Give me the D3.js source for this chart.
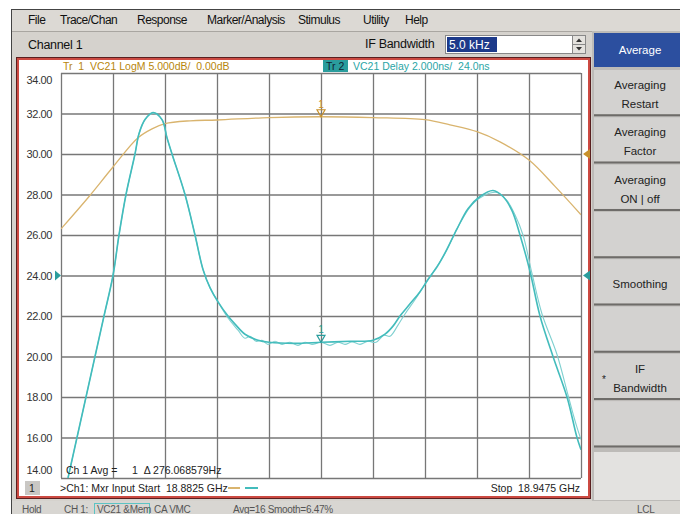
<!DOCTYPE html>
<html>
<head>
<meta charset="utf-8">
<script src="https://cdn.jsdelivr.net/npm/d3@7"></script>
<style>
  body { margin: 0; background: #fff; }
  svg text { font-family: "Liberation Sans", Arial, sans-serif; }
</style>
</head>
<body>
<div id="chart"></div>
<script>
// stimulus / scale settings
var startGHz = 18.8825;
var stopGHz = 18.9475;
var delayTicks = [34, 32, 30, 28, 26, 24, 22, 20, 18, 16, 14];
var markerGHz = 18.915;

// Tr 1 : VC21 LogM (dB)
var magFreq = [18.8825, 18.885875, 18.889, 18.892125, 18.893875, 18.8955, 18.898625, 18.902, 18.9085, 18.915,
  18.9215, 18.928, 18.931125, 18.9345, 18.937375, 18.941, 18.94425, 18.9475];
var magDb = [-9.25, -5.4, -1.6, 2.0, 3.1, 3.75, 4.1, 4.2, 4.5, 4.6,
  4.5, 4.25, 3.6, 2.75, 1.5, -0.75, -4.0, -7.5];

// Tr 2 : VC21 Delay (ns), data trace
var delayFreq = [18.883375, 18.8845, 18.885625, 18.88675, 18.887875, 18.889, 18.88975, 18.890625,
  18.89175, 18.89225, 18.893, 18.894, 18.895125, 18.89575, 18.896375, 18.898, 18.89925, 18.90025,
  18.901125, 18.902125, 18.903375, 18.90425, 18.9055, 18.907125, 18.9085, 18.91175, 18.915,
  18.918625, 18.9215, 18.923, 18.924, 18.924875, 18.926125, 18.927375, 18.928375, 18.929625,
  18.93075, 18.932, 18.933375, 18.934875, 18.9365, 18.93775, 18.938875, 18.939875, 18.941125,
  18.942375, 18.944, 18.94575, 18.947, 18.9475];
var delayNs = [14.0, 16.0, 18.0, 20.0, 22.0, 24.0, 26.0, 28.0,
  30.0, 31.0, 31.7, 32.05, 31.7, 30.8, 30.0, 28.0, 26.0, 24.3,
  23.4, 22.7, 22.0, 21.6, 21.1, 20.8, 20.7, 20.65, 20.7,
  20.75, 20.8, 21.1, 21.5, 22.0, 22.6, 23.2, 23.8, 24.5,
  25.3, 26.3, 27.3, 27.9, 28.2, 27.9, 27.2, 26.0, 24.2,
  22.0, 20.0, 18.0, 16.0, 15.4];

// Tr 2 memory trace (ns)
var memFreq = [18.883375, 18.8845, 18.885625, 18.88675, 18.887875, 18.889, 18.88975, 18.890625,
  18.89175, 18.89225, 18.893, 18.894, 18.895125, 18.89575, 18.896375, 18.898, 18.89925, 18.90025,
  18.901125, 18.902125, 18.903375, 18.904625, 18.9055, 18.906125, 18.906875, 18.907625, 18.908375,
  18.90925, 18.910125, 18.911125, 18.912125, 18.913, 18.913875, 18.915, 18.916125, 18.917125,
  18.918, 18.918875, 18.919875, 18.920875, 18.921875, 18.922875, 18.923625, 18.924625, 18.9255,
  18.92675, 18.928375, 18.930375, 18.932125, 18.933875, 18.935375, 18.937, 18.93825, 18.93925,
  18.94025, 18.941375, 18.942625, 18.9445, 18.945875, 18.946625, 18.947, 18.9475];
var memNs = [14.0, 16.0, 18.0, 20.0, 22.0, 24.0, 26.0, 28.0,
  30.0, 31.0, 31.7, 32.0, 31.7, 30.8, 30.0, 28.0, 26.0, 24.3,
  23.4, 22.7, 21.9, 21.3, 20.9, 21.0, 20.75, 20.8, 20.6,
  20.75, 20.6, 20.7, 20.55, 20.7, 20.6, 20.7, 20.55, 20.7,
  20.6, 20.72, 20.6, 20.75, 20.7, 21.05, 21.0, 21.55, 22.1,
  22.8, 23.8, 25.0, 26.4, 27.5, 27.95, 28.1, 27.7, 27.0,
  26.0, 24.1, 22.1, 20.1, 18.1, 17.0, 16.5, 15.9];

var menuItems = [["File", 28], ["Trace/Chan", 60], ["Response", 137], ["Marker/Analysis", 207],
  ["Stimulus", 298], ["Utility", 363], ["Help", 405]];
var softkeys = [["Averaging", "Restart"], ["Averaging", "Factor"], ["Averaging", "ON | off"], [],
  ["Smoothing"], [], ["IF", "Bandwidth"], []];
var statusItems = [["Hold", 22], ["CH 1:", 64], ["VC21 &Mem", 97], ["CA VMC", 154],
  ["Avg=16 Smooth=6.47%", 233], ["LCL", 637]];

var gold = "#d9b46e", goldText = "#b8860b";
var teal = "#43bcbc", tealText = "#2aa5a5";

var svg = d3.select("#chart").append("svg")
  .attr("width", 680).attr("height", 514);

svg.append("rect").attr("width", 680).attr("height", 514).attr("fill", "#fff");

// window body
svg.append("rect").attr("x", 11).attr("y", 9).attr("width", 669).attr("height", 505).attr("fill", "#d5d2cd");
svg.append("rect").attr("x", 11).attr("y", 9).attr("width", 669).attr("height", 22).attr("fill", "#dcd9d4");
svg.append("line").attr("x1", 11).attr("x2", 680).attr("y1", 9.5).attr("y2", 9.5).attr("stroke", "#444");
svg.append("line").attr("x1", 11.5).attr("x2", 11.5).attr("y1", 9).attr("y2", 514).attr("stroke", "#444");
svg.append("line").attr("x1", 12).attr("x2", 592).attr("y1", 31.5).attr("y2", 31.5).attr("stroke", "#a9a6a1");

svg.selectAll(".menu").data(menuItems).enter().append("text")
  .attr("x", d => d[1]).attr("y", 24)
  .attr("font-size", 12).attr("letter-spacing", "-0.5").attr("fill", "#111")
  .text(d => d[0]);

svg.append("text").attr("x", 28).attr("y", 49).attr("font-size", 12.5).attr("letter-spacing", "-0.3")
  .attr("fill", "#111").text("Channel 1");

// IF bandwidth entry
svg.append("text").attr("x", 365).attr("y", 48).attr("font-size", 12.5).attr("letter-spacing", "-0.3")
  .attr("fill", "#111").text("IF Bandwidth");
svg.append("rect").attr("x", 445.5).attr("y", 35.5).attr("width", 127).attr("height", 18)
  .attr("fill", "#fff").attr("stroke", "#888");
svg.append("rect").attr("x", 447).attr("y", 37).attr("width", 50).attr("height", 15).attr("fill", "#1d3a8a");
svg.append("text").attr("x", 449).attr("y", 49).attr("font-size", 12).attr("fill", "#fff").text("5.0 kHz");
svg.append("rect").attr("x", 572.5).attr("y", 35.5).attr("width", 13).attr("height", 18)
  .attr("fill", "#e4e2de").attr("stroke", "#888");
svg.append("line").attr("x1", 573).attr("x2", 585).attr("y1", 44.5).attr("y2", 44.5).attr("stroke", "#888");
svg.append("path").attr("d", "M576,42 L582,42 L579,38.5 Z").attr("fill", "#333");
svg.append("path").attr("d", "M576,47 L582,47 L579,50.5 Z").attr("fill", "#333");

// softkey panel
svg.append("rect").attr("x", 592).attr("y", 31).attr("width", 88).attr("height", 483).attr("fill", "#bdbbb8");
svg.append("rect").attr("x", 594).attr("y", 33).attr("width", 86).attr("height", 34).attr("fill", "#2c4f9f");
svg.append("text").attr("x", 640).attr("y", 54).attr("text-anchor", "middle")
  .attr("font-size", 11.5).attr("fill", "#fff").text("Average");

var keyTop = 70, keyH = 47.3;
var keys = svg.selectAll(".key").data(softkeys).enter().append("g")
  .attr("transform", (d, i) => "translate(594," + (keyTop + i * keyH) + ")");
keys.append("rect").attr("width", 86).attr("height", keyH - 3).attr("fill", "#d3d2d0");
keys.append("line").attr("x1", 0).attr("x2", 86).attr("y1", keyH - 2).attr("y2", keyH - 2)
  .attr("stroke", "#6e6c69").attr("stroke-width", 2);
keys.append("text").attr("x", 46).attr("text-anchor", "middle")
  .attr("font-size", 11.5).attr("fill", "#222")
  .selectAll("tspan").data(d => d).enter().append("tspan")
  .attr("x", 46)
  .attr("y", (d, i, n) => n.length === 1 ? 29 : 19 + i * 19)
  .text(d => d);
svg.append("text").attr("x", 602).attr("y", 383).attr("font-size", 10).attr("fill", "#222").text("*");
svg.append("rect").attr("x", 594).attr("y", 452).attr("width", 86).attr("height", 48).attr("fill", "#e3e2e0");

// plot panel with red frame
svg.append("rect").attr("x", 16.5).attr("y", 57.5).attr("width", 574).attr("height", 441)
  .attr("fill", "none").attr("stroke", "#5a2020");
svg.append("rect").attr("x", 18).attr("y", 59).attr("width", 571).attr("height", 438)
  .attr("fill", "#fff").attr("stroke", "#cc4a42").attr("stroke-width", 2);

var x = d3.scaleLinear().domain([startGHz, stopGHz]).range([61, 581]);
var y = d3.scaleLinear().domain([14, 34]).range([478, 73]);
// LogM 5 dB/div, reference 0 dB at the 8th division
var yDb = d3.scaleLinear().domain([-40, 10]).range([478, 73]);

// grid
var xGrid = d3.range(11).map(i => startGHz + i * (stopGHz - startGHz) / 10);
svg.append("g").attr("transform", "translate(0,478)")
  .call(d3.axisBottom(x).tickValues(xGrid).tickSize(-405).tickFormat(""))
  .call(g => g.select(".domain").remove())
  .call(g => g.selectAll("line").attr("stroke", "#777").attr("stroke-width", 1.3));
svg.append("g").attr("transform", "translate(61,0)")
  .call(d3.axisLeft(y).tickValues(delayTicks).tickSize(-520).tickFormat(""))
  .call(g => g.select(".domain").remove())
  .call(g => g.selectAll("line").attr("stroke", "#777").attr("stroke-width", 1.3));

// y labels (Tr 2 scale)
svg.selectAll(".ylab").data(delayTicks).enter().append("text")
  .attr("x", 52).attr("text-anchor", "end")
  .attr("y", d => d === 34 ? y(d) + 11 : d === 14 ? y(d) - 4 : y(d) + 4)
  .attr("font-size", 11).attr("letter-spacing", "-0.4").attr("fill", "#333")
  .text(d3.format(".2f"));

// traces
var clip = svg.append("clipPath").attr("id", "plotclip");
clip.append("rect").attr("x", 61).attr("y", 73).attr("width", 520).attr("height", 405);

var plot = svg.append("g").attr("clip-path", "url(#plotclip)");
var nsLine = d3.line().x(d => x(d[0])).y(d => y(d[1])).curve(d3.curveCatmullRom);
var dbLine = d3.line().x(d => x(d[0])).y(d => yDb(d[1])).curve(d3.curveCatmullRom);

plot.append("path").datum(d3.zip(magFreq, magDb)).attr("d", dbLine)
  .attr("fill", "none").attr("stroke", gold).attr("stroke-width", 1.3);
plot.append("path").datum(d3.zip(memFreq, memNs)).attr("d", nsLine)
  .attr("fill", "none").attr("stroke", "#7fd0d0").attr("stroke-width", 1.1);
plot.append("path").datum(d3.zip(delayFreq, delayNs)).attr("d", nsLine)
  .attr("fill", "none").attr("stroke", teal).attr("stroke-width", 1.6);

// marker 1 on each trace
function markerAt(px, py, col) {
  svg.append("path").attr("d", "M" + (px - 4) + "," + (py - 7) + " L" + (px + 4) + "," + (py - 7) + " L" + px + "," + py + " Z")
    .attr("fill", "none").attr("stroke", col).attr("stroke-width", 1.2);
  svg.append("text").attr("x", px).attr("y", py - 9).attr("text-anchor", "middle")
    .attr("font-size", 10).attr("fill", col).text("1");
}
markerAt(x(markerGHz), yDb(d3.max(magDb)), "#c8902a");
markerAt(x(markerGHz), y(20.7), "#2a9d9d");

// reference position markers
svg.append("path").attr("d", "M590," + (yDb(0) - 5) + " L583," + yDb(0) + " L590," + (yDb(0) + 5) + " Z").attr("fill", "#c8902a");
svg.append("path").attr("d", "M590," + (y(24) - 5) + " L583," + y(24) + " L590," + (y(24) + 5) + " Z").attr("fill", "#2a9d9d");
svg.append("path").attr("d", "M55," + (y(24) - 5) + " L61," + y(24) + " L55," + (y(24) + 5) + " Z").attr("fill", "#2a9d9d");

// trace headers
svg.append("text").attr("x", 63).attr("y", 70).attr("font-size", 10.5).attr("fill", goldText)
  .attr("xml:space", "preserve").text("Tr  1  VC21 LogM 5.000dB/  0.00dB");
svg.append("rect").attr("x", 323).attr("y", 60).attr("width", 25).attr("height", 12).attr("fill", "#2a9d9d");
svg.append("text").attr("x", 326).attr("y", 70).attr("font-size", 10.5).attr("fill", "#123").text("Tr 2");
svg.append("text").attr("x", 353).attr("y", 70).attr("font-size", 10.5).attr("fill", tealText)
  .attr("xml:space", "preserve").text("VC21 Delay 2.000ns/  24.0ns");

// marker readout and stimulus line
svg.append("text").attr("x", 66).attr("y", 474).attr("font-size", 10.5).attr("fill", "#222")
  .attr("xml:space", "preserve").text("Ch 1 Avg =     1  \u0394 276.068579Hz");
svg.append("rect").attr("x", 25).attr("y", 481).attr("width", 15).attr("height", 14).attr("fill", "#c9c7c4");
svg.append("text").attr("x", 29).attr("y", 492).attr("font-size", 10.5).attr("fill", "#222").text("1");
svg.append("text").attr("x", 60).attr("y", 492).attr("font-size", 10.5).attr("fill", "#222")
  .attr("xml:space", "preserve").text(">Ch1: Mxr Input Start  " + startGHz.toFixed(4) + " GHz");
svg.append("line").attr("x1", 228).attr("x2", 240).attr("y1", 488).attr("y2", 488).attr("stroke", gold).attr("stroke-width", 2);
svg.append("line").attr("x1", 245).attr("x2", 258).attr("y1", 488).attr("y2", 488).attr("stroke", teal).attr("stroke-width", 2);
svg.append("text").attr("x", 580).attr("y", 492).attr("text-anchor", "end").attr("font-size", 10.5).attr("fill", "#222")
  .attr("xml:space", "preserve").text("Stop  " + stopGHz.toFixed(4) + " GHz");

// status bar
svg.append("rect").attr("x", 12).attr("y", 501).attr("width", 668).attr("height", 13).attr("fill", "#d8d6d2");
svg.append("rect").attr("x", 94.5).attr("y", 503.5).attr("width", 55).attr("height", 12)
  .attr("fill", "none").attr("stroke", "#5cc4c4");
svg.selectAll(".statusText").data(statusItems).enter().append("text")
  .attr("x", d => d[1]).attr("y", 513).attr("font-size", 10).attr("letter-spacing", "-0.3").attr("fill", "#555")
  .text(d => d[0]);
</script>
</body>
</html>
